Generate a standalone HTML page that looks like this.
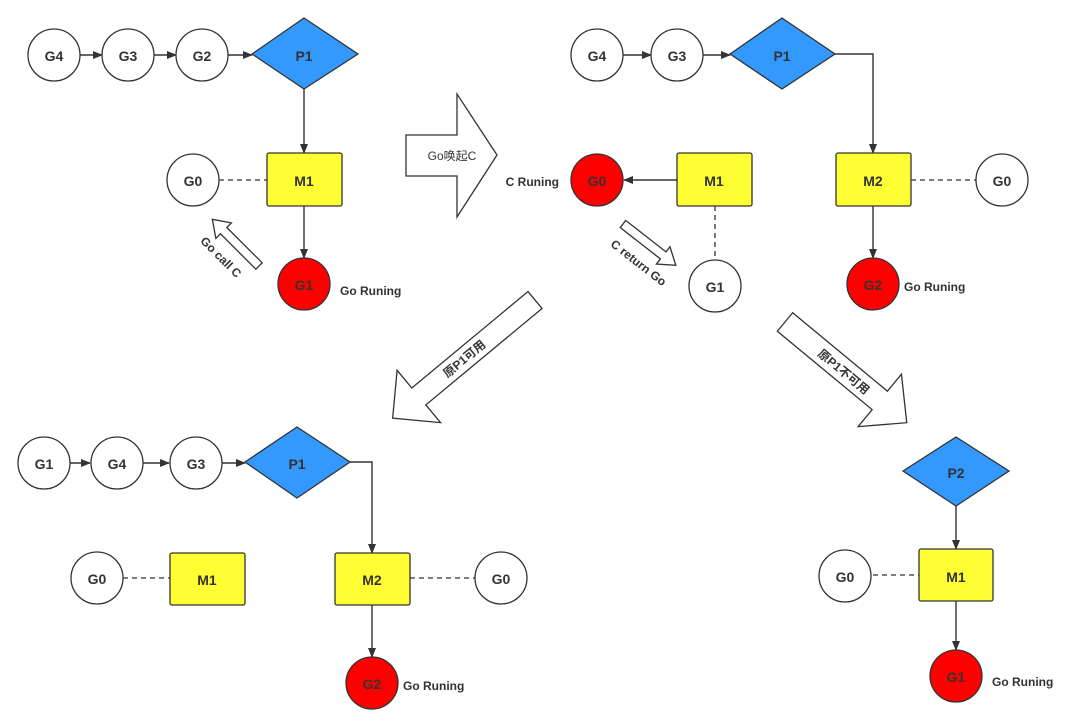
<!DOCTYPE html>
<html><head><meta charset="utf-8"><style>
html,body{margin:0;padding:0;background:#fff;}
svg{display:block;}
text{font-family:"Liberation Sans","Noto Sans CJK SC",sans-serif;fill:#333;font-weight:bold;}
.n{font-size:14px;text-anchor:middle;dominant-baseline:central;}
.s{font-size:12px;}
.c{fill:#fff;stroke:#333;stroke-width:1.3;}
.r{fill:#ff0000;stroke:#333;stroke-width:1.3;}
.y{fill:#ffff33;stroke:#333;stroke-width:1.3;}
.b{fill:#3399ff;stroke:#333;stroke-width:1.3;}
.l{stroke:#333;stroke-width:1.4;fill:none;}
.d{stroke:#333;stroke-width:1.3;fill:none;stroke-dasharray:5,4;}
.a{fill:#fff;stroke:#333;stroke-width:1.3;}
</style></head><body>
<svg width="1080" height="727" viewBox="0 0 1080 727" xmlns="http://www.w3.org/2000/svg">
<defs><marker id="m" markerWidth="10" markerHeight="8" refX="9" refY="4" orient="auto" markerUnits="userSpaceOnUse"><path d="M0,0 L10,4 L0,8 z" fill="#333"/></marker></defs>

<!-- Top-left -->
<line class="l" x1="80" y1="55" x2="102" y2="55" marker-end="url(#m)"/>
<line class="l" x1="154" y1="55" x2="176" y2="55" marker-end="url(#m)"/>
<line class="l" x1="228" y1="55" x2="252" y2="55" marker-end="url(#m)"/>
<circle class="c" cx="54" cy="55" r="26"/><text class="n" x="54" y="56">G4</text>
<circle class="c" cx="128" cy="55" r="26"/><text class="n" x="128" y="56">G3</text>
<circle class="c" cx="202" cy="55" r="26"/><text class="n" x="202" y="56">G2</text>
<polygon class="b" points="252,54 304,18 358,54 304,89"/><text class="n" x="304" y="56">P1</text>
<line class="l" x1="304" y1="89" x2="304" y2="153" marker-end="url(#m)"/>
<line class="d" x1="219" y1="180" x2="267" y2="180"/>
<rect class="y" x="267" y="153" width="75" height="53" rx="2"/><text class="n" x="304" y="181">M1</text>
<circle class="c" cx="193" cy="180" r="26"/><text class="n" x="193" y="181">G0</text>
<line class="l" x1="304" y1="206" x2="304" y2="258" marker-end="url(#m)"/>
<circle class="r" cx="304" cy="284" r="26"/><text class="n" x="304" y="285">G1</text>
<text class="s" x="340" y="295">Go Runing</text>
<g transform="translate(259,266) rotate(225)"><polygon class="a" points="0,-4.5 50,-4.5 50,-11 66,0 50,11 50,4.5 0,4.5"/></g>
<text class="s" transform="translate(218,260) rotate(45)" text-anchor="middle">Go call C</text>

<!-- big arrow -->
<polygon class="a" points="406,135 457,135 457,94 497,155 457,217 457,176 406,176"/>
<text class="s" x="452" y="160" text-anchor="middle" style="font-weight:normal">Go唤起C</text>
<text class="s" x="559" y="186" text-anchor="end">C Runing</text>

<!-- Top-right -->
<line class="l" x1="623" y1="55" x2="651" y2="55" marker-end="url(#m)"/>
<line class="l" x1="703" y1="55" x2="730" y2="55" marker-end="url(#m)"/>
<circle class="c" cx="597" cy="55" r="26"/><text class="n" x="597" y="56">G4</text>
<circle class="c" cx="677" cy="55" r="26"/><text class="n" x="677" y="56">G3</text>
<polygon class="b" points="730,54 782,18 835,54 782,89"/><text class="n" x="782" y="56">P1</text>
<polyline class="l" points="835,54 873,54 873,153" marker-end="url(#m)"/>
<line class="l" x1="677" y1="180" x2="624" y2="180" marker-end="url(#m)"/>
<circle class="r" cx="597" cy="180" r="26"/><text class="n" x="597" y="181">G0</text>
<rect class="y" x="677" y="153" width="75" height="53" rx="2"/><text class="n" x="714" y="181">M1</text>
<line class="d" x1="715" y1="206" x2="715" y2="260"/>
<circle class="c" cx="715" cy="286" r="26"/><text class="n" x="715" y="287">G1</text>
<g transform="translate(623,224) rotate(38)"><polygon class="a" points="0,-4.5 51,-4.5 51,-11 67,0 51,11 51,4.5 0,4.5"/></g>
<text class="s" transform="translate(636,266) rotate(38)" text-anchor="middle">C return Go</text>
<rect class="y" x="836" y="153" width="75" height="53" rx="2"/><text class="n" x="873" y="181">M2</text>
<line class="d" x1="911" y1="180" x2="976" y2="180"/>
<circle class="c" cx="1002" cy="180" r="26"/><text class="n" x="1002" y="181">G0</text>
<line class="l" x1="873" y1="206" x2="873" y2="258" marker-end="url(#m)"/>
<circle class="r" cx="873" cy="284" r="26"/><text class="n" x="873" y="285">G2</text>
<text class="s" x="904" y="291">Go Runing</text>

<!-- diagonal arrows -->
<g transform="translate(535,300) rotate(140.3)"><polygon class="a" points="0,-11 151,-11 151,-34 185,0 151,34 151,11 0,11"/></g>
<text class="s" transform="translate(467,362) rotate(-39.7)" text-anchor="middle">原P1可用</text>
<g transform="translate(785,322) rotate(39.6)"><polygon class="a" points="0,-12 123,-12 123,-34 158,0 123,34 123,12 0,12"/></g>
<text class="s" transform="translate(841,375) rotate(39.6)" text-anchor="middle">原P1不可用</text>

<!-- Bottom-left -->
<line class="l" x1="70" y1="463" x2="90" y2="463" marker-end="url(#m)"/>
<line class="l" x1="143" y1="463" x2="169" y2="463" marker-end="url(#m)"/>
<line class="l" x1="222" y1="463" x2="245" y2="463" marker-end="url(#m)"/>
<circle class="c" cx="44" cy="463" r="26"/><text class="n" x="44" y="464">G1</text>
<circle class="c" cx="117" cy="463" r="26"/><text class="n" x="117" y="464">G4</text>
<circle class="c" cx="196" cy="463" r="26"/><text class="n" x="196" y="464">G3</text>
<polygon class="b" points="245,462 297,427 350,462 297,498"/><text class="n" x="297" y="464">P1</text>
<polyline class="l" points="350,462 372,462 372,553" marker-end="url(#m)"/>
<circle class="c" cx="97" cy="578" r="26"/><text class="n" x="97" y="579">G0</text>
<line class="d" x1="123" y1="578" x2="170" y2="578"/>
<rect class="y" x="170" y="553" width="75" height="52" rx="2"/><text class="n" x="207" y="580">M1</text>
<rect class="y" x="335" y="553" width="75" height="52" rx="2"/><text class="n" x="372" y="580">M2</text>
<line class="d" x1="410" y1="578" x2="475" y2="578"/>
<circle class="c" cx="501" cy="578" r="26"/><text class="n" x="501" y="579">G0</text>
<line class="l" x1="372" y1="605" x2="372" y2="657" marker-end="url(#m)"/>
<circle class="r" cx="372" cy="683" r="26"/><text class="n" x="372" y="684">G2</text>
<text class="s" x="403" y="690">Go Runing</text>

<!-- Bottom-right -->
<polygon class="b" points="903,471 956,437 1009,471 956,506"/><text class="n" x="956" y="473">P2</text>
<line class="l" x1="956" y1="506" x2="956" y2="549" marker-end="url(#m)"/>
<circle class="c" cx="845" cy="576" r="26"/><text class="n" x="845" y="577">G0</text>
<line class="d" x1="873" y1="575" x2="919" y2="575"/>
<rect class="y" x="919" y="549" width="74" height="52" rx="2"/><text class="n" x="956" y="577">M1</text>
<line class="l" x1="956" y1="601" x2="956" y2="650" marker-end="url(#m)"/>
<circle class="r" cx="956" cy="676" r="26"/><text class="n" x="956" y="677">G1</text>
<text class="s" x="992" y="686">Go Runing</text>
</svg>
</body></html>
